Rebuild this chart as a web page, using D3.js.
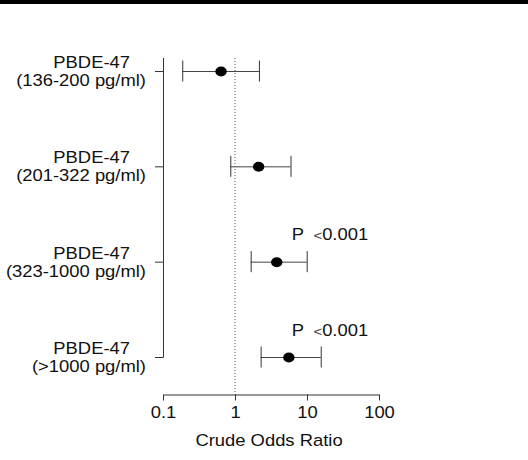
<!DOCTYPE html>
<html>
<head>
<meta charset="utf-8">
<script src="https://cdn.jsdelivr.net/npm/d3@7"></script>
<style>
  html, body { margin: 0; padding: 0; background: #fff; }
  svg { display: block; }
  text { font-family: "Liberation Sans", Arial, sans-serif; fill: #111; }
</style>
</head>
<body>
<svg id="chart" width="528" height="460"></svg>
<script>
// Exposure groups (two-line labels)
const groupNames = ["PBDE-47", "PBDE-47", "PBDE-47", "PBDE-47"];
const groupRanges = ["(136-200 pg/ml)", "(201-322 pg/ml)", "(323-1000 pg/ml)", "(>1000 pg/ml)"];
// Crude odds ratios with 95% confidence limits
const oddsRatio = [0.64, 2.13, 3.8, 5.6];
const ciLower = [0.185, 0.86, 1.65, 2.27];
const ciUpper = [2.15, 5.9, 9.9, 15.5];
// Significance notes (empty where none is given)
const pNotes = ["", "", "0.001", "0.001"];
// Axis
const xTicks = [0.1, 1, 10, 100];
const xTickLabels = ["0.1", "1", "10", "100"];
const xTitle = "Crude Odds Ratio";

const FONT = 16, STRETCH = 1.15;
const svg = d3.select("#chart");

// top rule
svg.append("rect").attr("x", 0).attr("y", 0).attr("width", 528).attr("height", 4).attr("fill", "#000");

const x = d3.scaleLog().domain([0.1, 100]).range([163, 379]);
const y = d3.scalePoint().domain(d3.range(groupNames.length)).range([71, 357]);
const axisY = 394.5;

// reference line at OR = 1
svg.append("line")
  .attr("x1", x(1)).attr("x2", x(1))
  .attr("y1", 58).attr("y2", axisY)
  .attr("stroke", "#555").attr("stroke-width", 1)
  .attr("stroke-dasharray", "1,2");

// left axis
svg.append("line")
  .attr("x1", 163.5).attr("x2", 163.5)
  .attr("y1", 58).attr("y2", y(groupNames.length - 1) + 0.5)
  .attr("stroke", "#333");
svg.selectAll("line.ytick").data(d3.range(groupNames.length)).join("line")
  .attr("class", "ytick")
  .attr("x1", 155).attr("x2", 163.5)
  .attr("y1", d => y(d) + 0.5).attr("y2", d => y(d) + 0.5)
  .attr("stroke", "#333");

// group labels
const lab = svg.selectAll("g.lab").data(d3.range(groupNames.length)).join("g")
  .attr("class", "lab");
lab.append("text")
  .attr("text-anchor", "end").attr("font-size", FONT)
  .attr("transform", d => `translate(130,${y(d) - 3}) scale(${STRETCH},1)`)
  .text(d => groupNames[d]);
lab.append("text")
  .attr("text-anchor", "end").attr("font-size", FONT)
  .attr("transform", d => `translate(146,${y(d) + 15}) scale(${STRETCH},1)`)
  .text(d => groupRanges[d]);

// bottom axis
const xAxis = d3.axisBottom(x)
  .tickValues(xTicks)
  .tickFormat((d, i) => xTickLabels[i])
  .tickSize(6).tickSizeOuter(0).tickPadding(6.5);
const gx = svg.append("g").attr("transform", `translate(0,${axisY})`).call(xAxis);
gx.select(".domain").attr("stroke", "#333");
gx.selectAll(".tick line").attr("stroke", "#333");
gx.selectAll(".tick text")
  .attr("font-size", FONT).attr("font-family", "Liberation Sans, Arial, sans-serif")
  .attr("fill", "#111")
  .attr("transform", `scale(${STRETCH},1)`);

svg.append("text")
  .attr("text-anchor", "middle").attr("font-size", FONT)
  .attr("transform", `translate(269,445.5) scale(${STRETCH},1)`)
  .text(xTitle);

// confidence intervals
const rows = d3.range(oddsRatio.length);
svg.selectAll("line.ci").data(rows).join("line")
  .attr("class", "ci")
  .attr("x1", d => x(ciLower[d])).attr("x2", d => x(ciUpper[d]))
  .attr("y1", d => y(d) + 0.5).attr("y2", d => y(d) + 0.5)
  .attr("stroke", "#444");
["lo", "hi"].forEach(side => {
  svg.selectAll("line.cap-" + side).data(rows).join("line")
    .attr("class", "cap-" + side)
    .attr("x1", d => x(side === "lo" ? ciLower[d] : ciUpper[d]) + 0.5)
    .attr("x2", d => x(side === "lo" ? ciLower[d] : ciUpper[d]) + 0.5)
    .attr("y1", d => y(d) - 10.5).attr("y2", d => y(d) + 10.5)
    .attr("stroke", "#333");
});

// point estimates
svg.selectAll("ellipse.pt").data(rows).join("ellipse")
  .attr("class", "pt")
  .attr("cx", d => x(oddsRatio[d])).attr("cy", d => y(d) + 0.5)
  .attr("rx", 5.7).attr("ry", 5)
  .attr("fill", "#000");

// p-value notes
const pn = svg.selectAll("text.pnote").data(rows.filter(d => pNotes[d] !== "")).join("text")
  .attr("class", "pnote").attr("font-size", FONT)
  .attr("transform", d => `translate(${x(20) - 37},${y(d) - 21.5}) scale(${STRETCH},1)`);
pn.append("tspan").attr("x", 0).text("P");
pn.append("tspan").attr("x", 19).attr("font-size", 13).attr("fill", "#444").text("<");
pn.append("tspan").attr("x", 26.5).text(d => pNotes[d]);
</script>
</body>
</html>
